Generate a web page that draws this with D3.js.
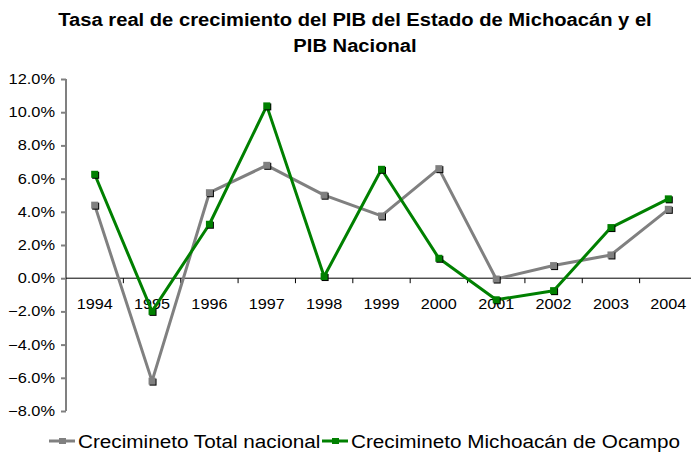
<!DOCTYPE html>
<html>
<head>
<meta charset="utf-8">
<script src="https://cdn.jsdelivr.net/npm/d3@7"></script>
<style>
  body { margin: 0; background: #fff; }
  text { font-family: "Liberation Sans", Arial, sans-serif; }
</style>
</head>
<body>
<svg width="691" height="452"></svg>
<script>
const years = ['1994', '1995', '1996', '1997', '1998', '1999', '2000', '2001', '2002', '2003', '2004'];
const nacional = [4.4, -6.2, 5.15, 6.8, 5.0, 3.75, 6.6, -0.05, 0.76, 1.4, 4.15];
const michoacan = [6.26, -2.0, 3.25, 10.38, 0.1, 6.56, 1.2, -1.3, -0.75, 3.05, 4.78];
const yTicks = [12, 10, 8, 6, 4, 2, 0, -2, -4, -6, -8];
const seriesNames = ['Crecimineto Total nacional', 'Crecimineto Michoacán de Ocampo'];
const seriesColors = ['#808080', '#008000'];

const margin = { top: 79, left: 66 };
const plotW = 631;
const plotH = 332;

const svg = d3.select('svg');

// the source font is a bit wider than Arial, stretch text horizontally
function stretch(sel, k) {
  sel.each(function () {
    const len = this.getComputedTextLength();
    d3.select(this).attr('textLength', len * k).attr('lengthAdjust', 'spacingAndGlyphs');
  });
}

const x = d3.scaleBand().domain(years).range([margin.left, margin.left + plotW]);
const y = d3.scaleLinear().domain([-8, 12]).range([margin.top + plotH, margin.top]);

// title
const title = svg.append('g').selectAll('text')
  .data(['Tasa real de crecimiento del PIB del Estado de Michoacán y el', 'PIB Nacional'])
  .enter().append('text')
    .attr('x', 355)
    .attr('y', (d, i) => 26 + i * 26)
    .attr('text-anchor', 'middle')
    .style('font-size', '18px').style('font-weight', 'bold')
    .text(d => d);
stretch(title, 1.12);

// y axis
const yAxis = svg.append('g')
  .attr('transform', `translate(${margin.left},0)`)
  .call(d3.axisLeft(y).tickValues(yTicks).tickSize(5).tickFormat(d => d3.format('.1f')(d) + '%'));
yAxis.selectAll('path, line').attr('stroke', '#808080').attr('stroke-width', 2);
yAxis.select('.domain').attr('d', `M0,${y(12)}V${y(-8)}`);
yAxis.selectAll('text')
  .attr('x', -11)
  .style('font-size', '14px').style('font-family', '"Liberation Sans", Arial, sans-serif').attr('fill', '#000');
stretch(yAxis.selectAll('text'), 1.17);

// x axis on zero line
const xAxis = svg.append('g')
  .attr('transform', `translate(0,${y(0)})`);
xAxis.append('line')
  .attr('x1', margin.left).attr('x2', margin.left + plotW)
  .attr('stroke', '#000').attr('stroke-width', 1);
xAxis.selectAll('.tk')
  .data(years.slice(1))
  .enter().append('line')
    .attr('x1', d => x(d)).attr('x2', d => x(d))
    .attr('y1', 0).attr('y2', 5)
    .attr('stroke', '#000');
const xLabels = xAxis.selectAll('.lbl')
  .data(years)
  .enter().append('text')
    .attr('x', d => x(d) + x.bandwidth() / 2)
    .attr('y', 31)
    .attr('text-anchor', 'middle')
    .style('font-size', '15px')
    .text(d => d);
stretch(xLabels, 1.08);

// series
const line = d3.line()
  .x((d, i) => x(years[i]) + x.bandwidth() / 2)
  .y(d => y(d));

[nacional, michoacan].forEach((vals, s) => {
  const g = svg.append('g');
  g.append('path')
    .datum(vals)
    .attr('d', line)
    .attr('fill', 'none')
    .attr('stroke', seriesColors[s])
    .attr('stroke-width', 3)
    .attr('stroke-linejoin', 'round');
  g.selectAll('.shadow')
    .data(vals)
    .enter().append('rect')
      .attr('x', (d, i) => x(years[i]) + x.bandwidth() / 2 - 2.5)
      .attr('y', d => y(d) - 2.5)
      .attr('width', 7).attr('height', 7)
      .attr('fill', '#000');
  g.selectAll('.mk')
    .data(vals)
    .enter().append('rect')
      .attr('x', (d, i) => x(years[i]) + x.bandwidth() / 2 - 3.5)
      .attr('y', d => y(d) - 3.5)
      .attr('width', 7).attr('height', 7)
      .attr('fill', seriesColors[s]);
});

// legend
const legendX = [49, 322];
seriesNames.forEach((name, s) => {
  const g = svg.append('g').attr('transform', `translate(${legendX[s]},441)`);
  g.append('line').attr('x1', 0).attr('x2', 26)
    .attr('stroke', seriesColors[s]).attr('stroke-width', 3);
  g.append('rect').attr('x', 10).attr('y', -3).attr('width', 7).attr('height', 6)
    .attr('fill', seriesColors[s]);
  const t = g.append('text').attr('x', 29).attr('y', 7)
    .style('font-size', '18px')
    .text(name);
  stretch(t, 1.15);
});
</script>
</body>
</html>
